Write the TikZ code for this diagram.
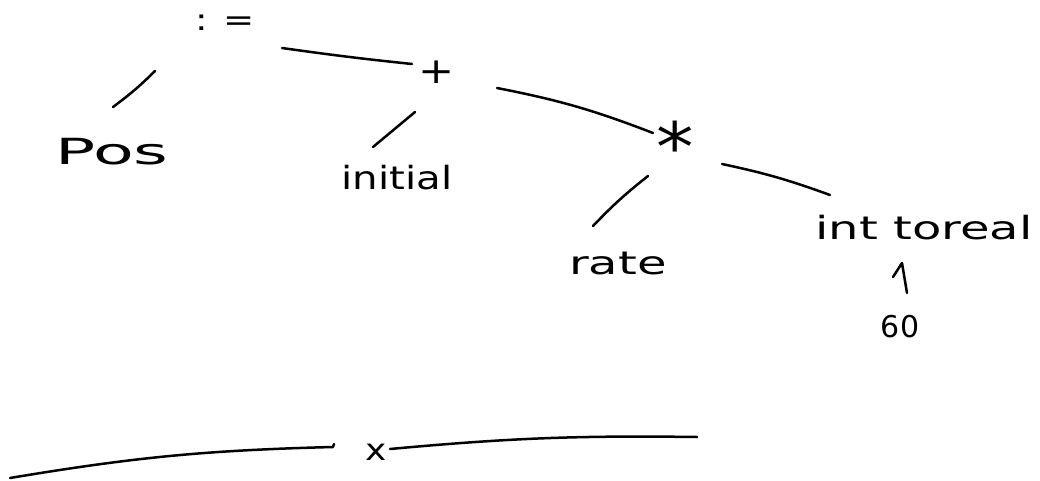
\documentclass[tikz,border=0pt]{standalone}
\usepackage{fontspec}
\setmainfont{DejaVu Sans}
\usetikzlibrary{calc}
\newcommand\hwtext[3]{\fontsize{#1}{#1}\selectfont\scalebox{#2}[1]{#3}}
\begin{document}
\begin{tikzpicture}[x=1pt,y=-1pt,
  lbl/.style={inner sep=0pt, anchor=center},
  hand/.style={line width=2.5pt, line cap=round, line join=round}]
\fill[white] (0,0) rectangle (1040,481);
\useasboundingbox (0,0) rectangle (1040,481);
% nodes
\node[lbl] (assign) at (225,23) {\hwtext{30pt}{1.24}{: =}};
\node[lbl] (pos) at (112,152) {\hwtext{36pt}{1.85}{Pos}};
\node[lbl] (plus) at (437,72) {\hwtext{36pt}{1.2}{+}};
\node[lbl] (initial) at (397,178) {\hwtext{32pt}{1.26}{initial}};
\node[lbl] (star) at (675,146) {\hwtext{68pt}{1.1}{*}};
\node[lbl] (rate) at (618,263) {\hwtext{32pt}{1.5}{rate}};
\node[lbl] (inttoreal) at (924,228) {\hwtext{32pt}{1.5}{int toreal}};
\node[lbl] (sixty) at (900,327) {\hwtext{30pt}{1}{60}};
\node[lbl] (times) at (376,452) {\hwtext{30pt}{1.2}{x}};
\coordinate (bl) at (10,478);
\coordinate (br) at (697,437);
% connectors
\draw[hand] ($(assign)+(-70,48)$) to[bend left=4] ($(pos)+(1,-45)$);
\draw[hand] ($(assign)+(57,25)$) to[bend right=1] ($(plus)+(-25,-8)$);
\draw[hand] ($(plus)+(-22,40)$) -- ($(initial)+(-24,-31)$);
\draw[hand] ($(plus)+(60,16)$) to[bend left=5] ($(star)+(-22,-13)$);
\draw[hand] ($(star)+(-27,30)$) to[bend right=4] ($(rate)+(-25,-37)$);
\draw[hand] ($(star)+(47,18)$) to[bend left=4] ($(inttoreal)+(-94,-33)$);
\draw[hand] ($(inttoreal)+(-31,49)$) -- ($(inttoreal)+(-22,35)$) -- ($(sixty)+(7,-34)$);
\draw[hand] (bl) to[bend left=4] ($(times)+(-43,-5)$) -- ++(1,-3);
\draw[hand] ($(times)+(14,-3)$) to[bend left=3] (br);
\end{tikzpicture}
\end{document}
